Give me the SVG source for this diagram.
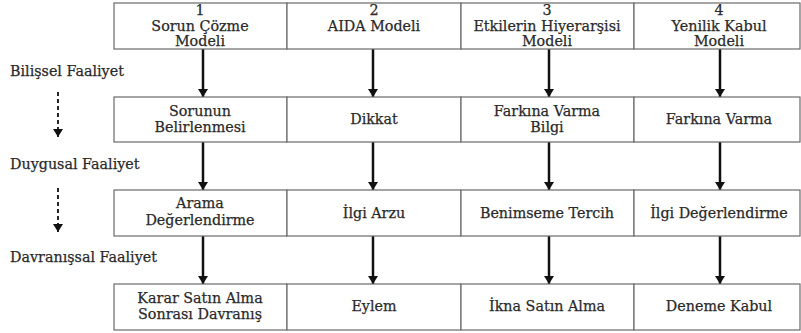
<svg xmlns="http://www.w3.org/2000/svg" width="801" height="333" viewBox="0 0 801 333">
<style>
.box{fill:#fff;stroke:#6a6a6a;stroke-width:1.2}
text{font-family:'DejaVu Serif',serif;font-size:14.3px;fill:#2a2a2a;text-anchor:middle;stroke:#2a2a2a;stroke-width:0.25}
.lbl{text-anchor:start}
.conn{stroke:#111;stroke-width:2.5;fill:none}
.dash{stroke:#111;stroke-width:1.8;stroke-dasharray:4 3;fill:none}
</style>
<defs>
<marker id="ah2" markerWidth="10" markerHeight="8" refX="5" refY="8" markerUnits="userSpaceOnUse" viewBox="0 0 10 8">
<path d="M0,0 L10,0 L5,8 Z" fill="#111"/>
</marker>
</defs>
<rect width="801" height="333" fill="#fff"/>

<g id="connectors">
<line class="conn" x1="203" y1="49" x2="203" y2="97" marker-end="url(#ah2)"/>
<line class="conn" x1="373" y1="49" x2="373" y2="97" marker-end="url(#ah2)"/>
<line class="conn" x1="549" y1="49" x2="549" y2="97" marker-end="url(#ah2)"/>
<line class="conn" x1="720" y1="49" x2="720" y2="97" marker-end="url(#ah2)"/>
<line class="conn" x1="203" y1="142" x2="203" y2="190" marker-end="url(#ah2)"/>
<line class="conn" x1="373" y1="142" x2="373" y2="190" marker-end="url(#ah2)"/>
<line class="conn" x1="549" y1="142" x2="549" y2="190" marker-end="url(#ah2)"/>
<line class="conn" x1="720" y1="142" x2="720" y2="190" marker-end="url(#ah2)"/>
<line class="conn" x1="203" y1="236" x2="203" y2="284" marker-end="url(#ah2)"/>
<line class="conn" x1="373" y1="236" x2="373" y2="284" marker-end="url(#ah2)"/>
<line class="conn" x1="549" y1="236" x2="549" y2="284" marker-end="url(#ah2)"/>
<line class="conn" x1="720" y1="236" x2="720" y2="284" marker-end="url(#ah2)"/>
<line class="dash" x1="58" y1="92" x2="58" y2="137" marker-end="url(#ah2)"/>
<line class="dash" x1="58" y1="188" x2="58" y2="232" marker-end="url(#ah2)"/>
</g>

<g id="labels">
<text class="lbl" x="10" y="76">Bilişsel Faaliyet</text>
<text class="lbl" x="10" y="169">Duygusal Faaliyet</text>
<text class="lbl" x="10" y="262">Davranışsal Faaliyet</text>
</g>

<g id="r1c1"><rect class="box" x="114" y="3" width="173" height="46"/><text x="200" y="15">1</text><text x="200" y="31">Sorun Çözme</text><text x="200" y="46">Modeli</text></g>
<g id="r1c2"><rect class="box" x="287" y="3" width="174" height="46"/><text x="374" y="15">2</text><text x="374" y="31">AIDA Modeli</text></g>
<g id="r1c3"><rect class="box" x="461" y="3" width="173" height="46"/><text x="547" y="15">3</text><text x="547" y="31">Etkilerin Hiyerarşisi</text><text x="547" y="46">Modeli</text></g>
<g id="r1c4"><rect class="box" x="634" y="3" width="166" height="46"/><text x="719" y="15">4</text><text x="719" y="31">Yenilik Kabul</text><text x="719" y="46">Modeli</text></g>

<g id="r2c1"><rect class="box" x="114" y="97" width="173" height="45"/><text x="200" y="116">Sorunun</text><text x="200" y="132">Belirlenmesi</text></g>
<g id="r2c2"><rect class="box" x="287" y="97" width="174" height="45"/><text x="374" y="124">Dikkat</text></g>
<g id="r2c3"><rect class="box" x="461" y="97" width="173" height="45"/><text x="547" y="116">Farkına Varma</text><text x="547" y="132">Bilgi</text></g>
<g id="r2c4"><rect class="box" x="634" y="97" width="166" height="45"/><text x="719" y="124">Farkına Varma</text></g>

<g id="r3c1"><rect class="box" x="114" y="190" width="173" height="46"/><text x="200" y="208">Arama</text><text x="200" y="225">Değerlendirme</text></g>
<g id="r3c2"><rect class="box" x="287" y="190" width="174" height="46"/><text x="374" y="218">İlgi Arzu</text></g>
<g id="r3c3"><rect class="box" x="461" y="190" width="173" height="46"/><text x="547" y="218">Benimseme Tercih</text></g>
<g id="r3c4"><rect class="box" x="634" y="190" width="166" height="46"/><text x="719" y="218">İlgi Değerlendirme</text></g>

<g id="r4c1"><rect class="box" x="114" y="284" width="173" height="46"/><text x="200" y="303">Karar Satın Alma</text><text x="200" y="319">Sonrası Davranış</text></g>
<g id="r4c2"><rect class="box" x="287" y="284" width="174" height="46"/><text x="374" y="311">Eylem</text></g>
<g id="r4c3"><rect class="box" x="461" y="284" width="173" height="46"/><text x="547" y="311">İkna Satın Alma</text></g>
<g id="r4c4"><rect class="box" x="634" y="284" width="166" height="46"/><text x="719" y="311">Deneme Kabul</text></g>
</svg>
